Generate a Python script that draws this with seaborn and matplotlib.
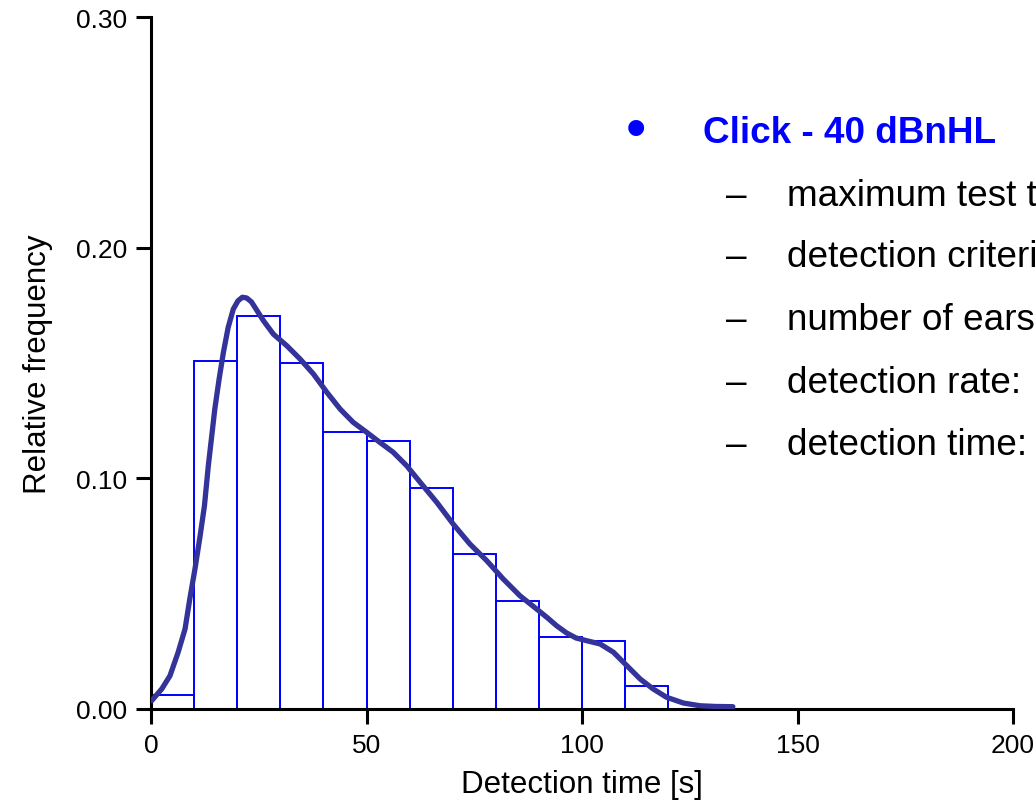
import matplotlib
matplotlib.use("Agg")
import matplotlib.pyplot as plt
import seaborn as sns

# Histogram: bin edges and relative frequencies
bin_edges = [0, 10, 20, 30, 40, 50, 60, 70, 80, 90, 100, 110, 120]
rel_freq = [0.006, 0.151, 0.1705, 0.150, 0.120, 0.116, 0.096, 0.067, 0.047, 0.031, 0.0296, 0.010]

# Smoothed density curve
curve_x = [0.15, 2.5, 4.4, 6.3, 7.9, 9.0, 10.2, 11.4, 12.4, 13.3, 14.1, 14.8, 15.8,
           16.8, 17.9, 19.1, 20.2, 21.2, 22.2, 23.3, 24.5, 26.1, 28.4, 31.5, 34.6,
           37.7, 40.8, 43.9, 46.9, 50.0, 53.1, 56.2, 59.3, 62.8, 66.3, 70.1, 74.0,
           77.9, 81.7, 85.6, 89.5, 92.0, 94.1, 96.4, 98.6, 101.1, 104.2, 107.3,
           110.4, 113.5, 116.5, 119.6, 123.5, 127.4, 131.0, 135.0]
curve_y = [0.0036, 0.0087, 0.0144, 0.0246, 0.0347, 0.0477, 0.0607, 0.0751, 0.0881,
           0.1055, 0.1185, 0.130, 0.143, 0.1546, 0.1654, 0.1734, 0.1770, 0.1785,
           0.1782, 0.1765, 0.1730, 0.1683, 0.1625, 0.1575, 0.1517, 0.1452, 0.1373,
           0.130, 0.1243, 0.120, 0.1156, 0.1113, 0.1055, 0.0975, 0.0896, 0.0802,
           0.0715, 0.0643, 0.0564, 0.0491, 0.0433, 0.0395, 0.0361, 0.0330, 0.0308,
           0.0296, 0.0282, 0.0246, 0.0188, 0.0130, 0.0087, 0.0051, 0.0026, 0.0014,
           0.0011, 0.0010]

x_ticks = [0, 50, 100, 150, 200]
y_ticks = [0.0, 0.1, 0.2, 0.3]
y_tick_labels = ["0.00", "0.10", "0.20", "0.30"]

title_text = "Click - 40 dBnHL"
bullet_items = ["maximum test time", "detection criterion", "number of ears",
                "detection rate:", "detection time:"]

sns.set_style("ticks")
plt.rcParams['font.family'] = ['Liberation Sans', 'DejaVu Sans']
plt.rcParams['text.color'] = 'black'
plt.rcParams['axes.labelcolor'] = 'black'
plt.rcParams['xtick.color'] = 'black'
plt.rcParams['ytick.color'] = 'black'

fig = plt.figure(figsize=(10.36, 8.03), dpi=100)
ax = fig.add_axes([151/1036, 1 - 710/803, (1013 - 151)/1036, (710 - 18)/803])

centers = [(bin_edges[i] + bin_edges[i + 1]) / 2 for i in range(len(rel_freq))]
sns.histplot(x=centers, weights=rel_freq, bins=bin_edges, fill=False,
             color="#0000ff", linewidth=1.4, ax=ax, zorder=2)
sns.lineplot(x=curve_x, y=curve_y, color="#333399", linewidth=3.8, ax=ax,
             zorder=3, solid_capstyle="round", solid_joinstyle="round")

ax.set_xlim(0, 200)
ax.set_ylim(0, 0.30)
ax.set_xticks(x_ticks)
ax.set_yticks(y_ticks)
ax.set_yticklabels(y_tick_labels)
ax.tick_params(axis="both", labelsize=19, length=11, width=2.2, direction="out",
               colors="black", pad=6)
for side in ["top", "right"]:
    ax.spines[side].set_visible(False)
for side in ["left", "bottom"]:
    ax.spines[side].set_linewidth(2.2)
    ax.spines[side].set_color("black")
ax.set_xlabel("Detection time [s]", fontsize=22.5, labelpad=9)
ax.set_ylabel("Relative frequency", fontsize=22.5, labelpad=17)

# Text block on the right
fig.text(636/1036, 1 - 147/803, "•", fontsize=42, color="#0000ff",
         ha="center", va="baseline")
fig.text(703/1036, 1 - 143/803, title_text, fontsize=26.6, color="#0000ff",
         fontweight="bold", ha="left", va="baseline")
baselines = [206, 267, 330, 393, 455]
for b, item in zip(baselines, bullet_items):
    fig.text(726/1036, 1 - b/803, "–", fontsize=26.6, color="black",
             ha="left", va="baseline")
    fig.text(787/1036, 1 - b/803, item, fontsize=26.6, color="black",
             ha="left", va="baseline")

fig.savefig("out.png", dpi=100)
